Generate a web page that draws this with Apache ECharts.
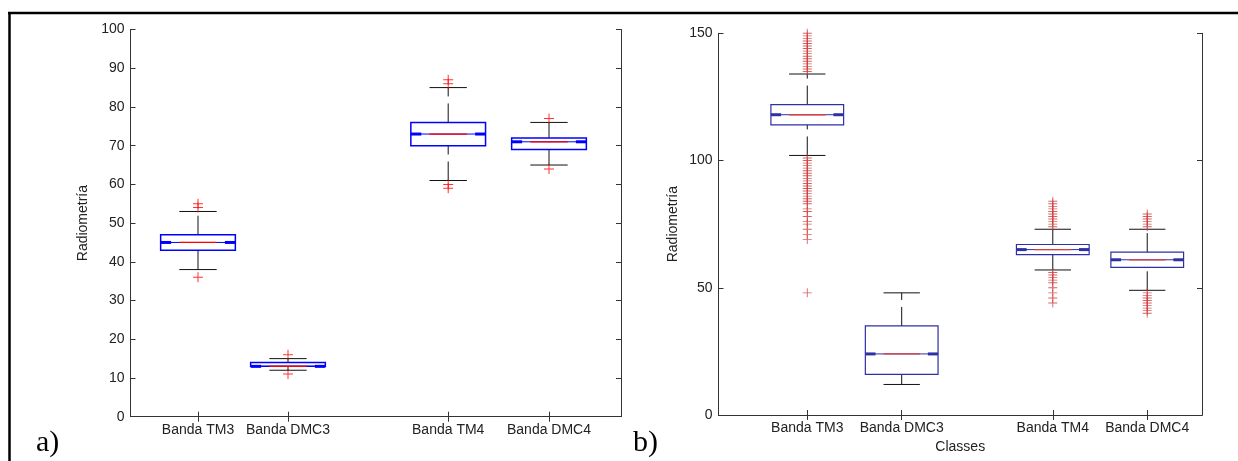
<!DOCTYPE html>
<html>
<head>
<meta charset="utf-8">
<title>Radiometría</title>
<script src="https://cdn.jsdelivr.net/npm/echarts@6/dist/echarts.min.js"></script>
<style>
  html, body { margin: 0; padding: 0; background: #fff; }
  #chart { width: 1238px; height: 461px; }
</style>
</head>
<body>
<div id="chart"></div>
<script>
var classes = ['Banda TM3', 'Banda DMC3', 'Banda TM4', 'Banda DMC4'];

// panel a) - x positions of the boxes and [low, q1, median, q3, high]
var positionsA = [1, 2, 3.78, 4.9];
var boxesA = [
  [38, 43, 45, 47, 53],
  [12, 13, 13, 14, 15],
  [61, 70, 73, 76, 85],
  [65, 69, 71, 72, 76]
];
var outliersA = [
  [55, 54, 36],
  [16, 11],
  [87, 86, 60, 59],
  [77, 64]
];
var yTicksA = [0, 100, 10];

// panel b)
var positionsB = [1, 2, 3.6, 4.6];
var boxesB = [
  [102, 114, 118, 122, 134],
  [12, 16, 24, 35, 48],
  [57, 63, 65, 67, 73],
  [49, 58, 61, 64, 73]
];
var outliersB = [
  [150, 149, 148, 147, 146, 145, 144, 143, 142, 141, 140, 139, 138, 137, 136, 135,
   101, 100, 99, 98, 97, 96, 95, 94, 93, 92, 91, 90, 89, 88, 87, 86, 85, 84, 83,
   81, 80, 78, 76, 75, 73, 71, 69, 48],
  [],
  [84, 83, 82, 81, 80, 79, 78, 77, 76, 75, 74, 56, 55, 54, 53, 52, 50, 48, 46, 44],
  [79, 78, 77, 76, 75, 74, 48, 47, 46, 45, 44, 43, 42, 41, 40]
];
var yTicksB = [0, 150, 50];

var FONT = '"Liberation Sans", Arial, sans-serif';
var PLUS = 'path://M4.5,0H5.5V4.5H10V5.5H5.5V10H4.5V5.5H0V4.5H4.5Z';

function boxRenderer(boxWidth, blue, red, lw) {
  return function (params, api) {
    var x = api.value(0);
    var lo = api.coord([x, api.value(1)]);
    var q1 = api.coord([x, api.value(2)]);
    var md = api.coord([x, api.value(3)]);
    var q3 = api.coord([x, api.value(4)]);
    var hi = api.coord([x, api.value(5)]);
    var w = api.size([boxWidth, 0])[0];
    var cx = lo[0], L = cx - w / 2, R = cx + w / 2;
    var end = w * 0.14;
    var dash = { stroke: '#111', lineWidth: 1, lineDash: [19, 7] };
    var solid = { stroke: '#111', lineWidth: 1 };
    return {
      type: 'group',
      children: [
        { type: 'line', shape: { x1: cx, y1: q3[1], x2: cx, y2: hi[1] }, style: dash },
        { type: 'line', shape: { x1: cx, y1: lo[1], x2: cx, y2: q1[1] }, style: dash },
        { type: 'line', shape: { x1: cx - w / 4, y1: hi[1], x2: cx + w / 4, y2: hi[1] }, style: solid },
        { type: 'line', shape: { x1: cx - w / 4, y1: lo[1], x2: cx + w / 4, y2: lo[1] }, style: solid },
        { type: 'rect', shape: { x: L, y: q3[1], width: w, height: q1[1] - q3[1] },
          style: { fill: 'none', stroke: blue, lineWidth: lw } },
        { type: 'line', shape: { x1: L, y1: md[1], x2: R, y2: md[1] }, style: { stroke: blue, lineWidth: 1 } },
        { type: 'line', shape: { x1: cx - w / 4, y1: md[1], x2: cx + w / 4, y2: md[1] }, style: { stroke: red, lineWidth: 1.3 } },
        { type: 'line', shape: { x1: L, y1: md[1], x2: L + end, y2: md[1] }, style: { stroke: blue, lineWidth: 3 } },
        { type: 'line', shape: { x1: R - end, y1: md[1], x2: R, y2: md[1] }, style: { stroke: blue, lineWidth: 3 } }
      ]
    };
  };
}

function boxData(pos, boxes) {
  return boxes.map(function (b, i) { return [pos[i]].concat(b); });
}
function outlierData(pos, outs) {
  var d = [];
  outs.forEach(function (list, i) {
    list.forEach(function (v) { d.push([pos[i], v]); });
  });
  return d;
}
function nameAt(pos) {
  return function (v) {
    for (var i = 0; i < pos.length; i++) if (Math.abs(pos[i] - v) < 1e-6) return classes[i];
    return '';
  };
}

var axisLine = { lineStyle: { color: '#333', width: 1 } };
var tickStyle = { color: '#333', width: 1 };
var labelStyle = { fontFamily: FONT, fontSize: 14, color: '#222' };

function xPair(grid, pos, min, max, name) {
  return [
    { gridIndex: grid, type: 'value', position: 'bottom', min: min, max: max,
      name: name, nameLocation: 'middle', nameGap: 24,
      nameTextStyle: labelStyle,
      axisLine: axisLine, splitLine: { show: false },
      axisTick: { customValues: pos, inside: true, length: 5, lineStyle: tickStyle },
      axisLabel: Object.assign({ customValues: pos, margin: 6, formatter: nameAt(pos) }, labelStyle) },
    { gridIndex: grid, type: 'value', position: 'top', min: min, max: max,
      axisLine: axisLine, splitLine: { show: false },
      axisTick: { customValues: pos, inside: true, length: 5, lineStyle: tickStyle },
      axisLabel: { show: false } }
  ];
}
function yPair(grid, t, gap) {
  return [
    { gridIndex: grid, type: 'value', position: 'left', min: t[0], max: t[1], interval: t[2],
      name: 'Radiometría', nameLocation: 'middle', nameRotate: 90, nameGap: gap,
      nameTextStyle: labelStyle,
      axisLine: { show: true, lineStyle: axisLine.lineStyle }, splitLine: { show: false },
      axisTick: { show: true, inside: true, length: 5, lineStyle: tickStyle },
      axisLabel: Object.assign({ margin: 6 }, labelStyle) },
    { gridIndex: grid, type: 'value', position: 'right', min: t[0], max: t[1], interval: t[2],
      axisLine: { show: true, lineStyle: axisLine.lineStyle }, splitLine: { show: false },
      axisTick: { show: true, inside: true, length: 5, lineStyle: tickStyle },
      axisLabel: { show: false } }
  ];
}

var chart = echarts.init(document.getElementById('chart'), null, { renderer: 'canvas' });
chart.setOption({
  animation: false,
  backgroundColor: '#fff',
  grid: [
    { left: 130.5, top: 29.5, width: 490.5, height: 387.2, outerBoundsMode: 'none' },
    { left: 718.5, top: 33.3, width: 483.5, height: 381.7, outerBoundsMode: 'none' }
  ],
  xAxis: xPair(0, positionsA, 0.25, 5.7, '').concat(xPair(1, positionsB, 0.06, 5.18, 'Classes')),
  yAxis: yPair(0, yTicksA, 40).concat(yPair(1, yTicksB, 38)),
  series: [
    { type: 'custom', xAxisIndex: 0, yAxisIndex: 0, renderItem: boxRenderer(0.83, '#0000ff', '#ff0000', 1.5),
      data: boxData(positionsA, boxesA), z: 2 },
    { type: 'scatter', xAxisIndex: 0, yAxisIndex: 0, symbol: PLUS, symbolSize: 10,
      itemStyle: { color: '#ff0000' }, data: outlierData(positionsA, outliersA), z: 3 },
    { type: 'custom', xAxisIndex: 2, yAxisIndex: 2, renderItem: boxRenderer(0.77, '#2f2fa6', '#d84040', 1.2),
      data: boxData(positionsB, boxesB), z: 2 },
    { type: 'scatter', xAxisIndex: 2, yAxisIndex: 2, symbol: PLUS, symbolSize: 9,
      itemStyle: { color: '#d03a3a' }, data: outlierData(positionsB, outliersB), z: 3 }
  ],
  graphic: [
    { type: 'line', shape: { x1: 8, y1: 13, x2: 1238, y2: 13 }, style: { stroke: '#000', lineWidth: 2.5 } },
    { type: 'line', shape: { x1: 9.5, y1: 12, x2: 9.5, y2: 461 }, style: { stroke: '#000', lineWidth: 2.5 } },
    { type: 'text', left: 36, top: 428, style: { text: 'a)', font: '30px "Liberation Serif", "Times New Roman", serif', fill: '#000' } },
    { type: 'text', left: 633, top: 428, style: { text: 'b)', font: '30px "Liberation Serif", "Times New Roman", serif', fill: '#000' } }
  ]
});
</script>
</body>
</html>
